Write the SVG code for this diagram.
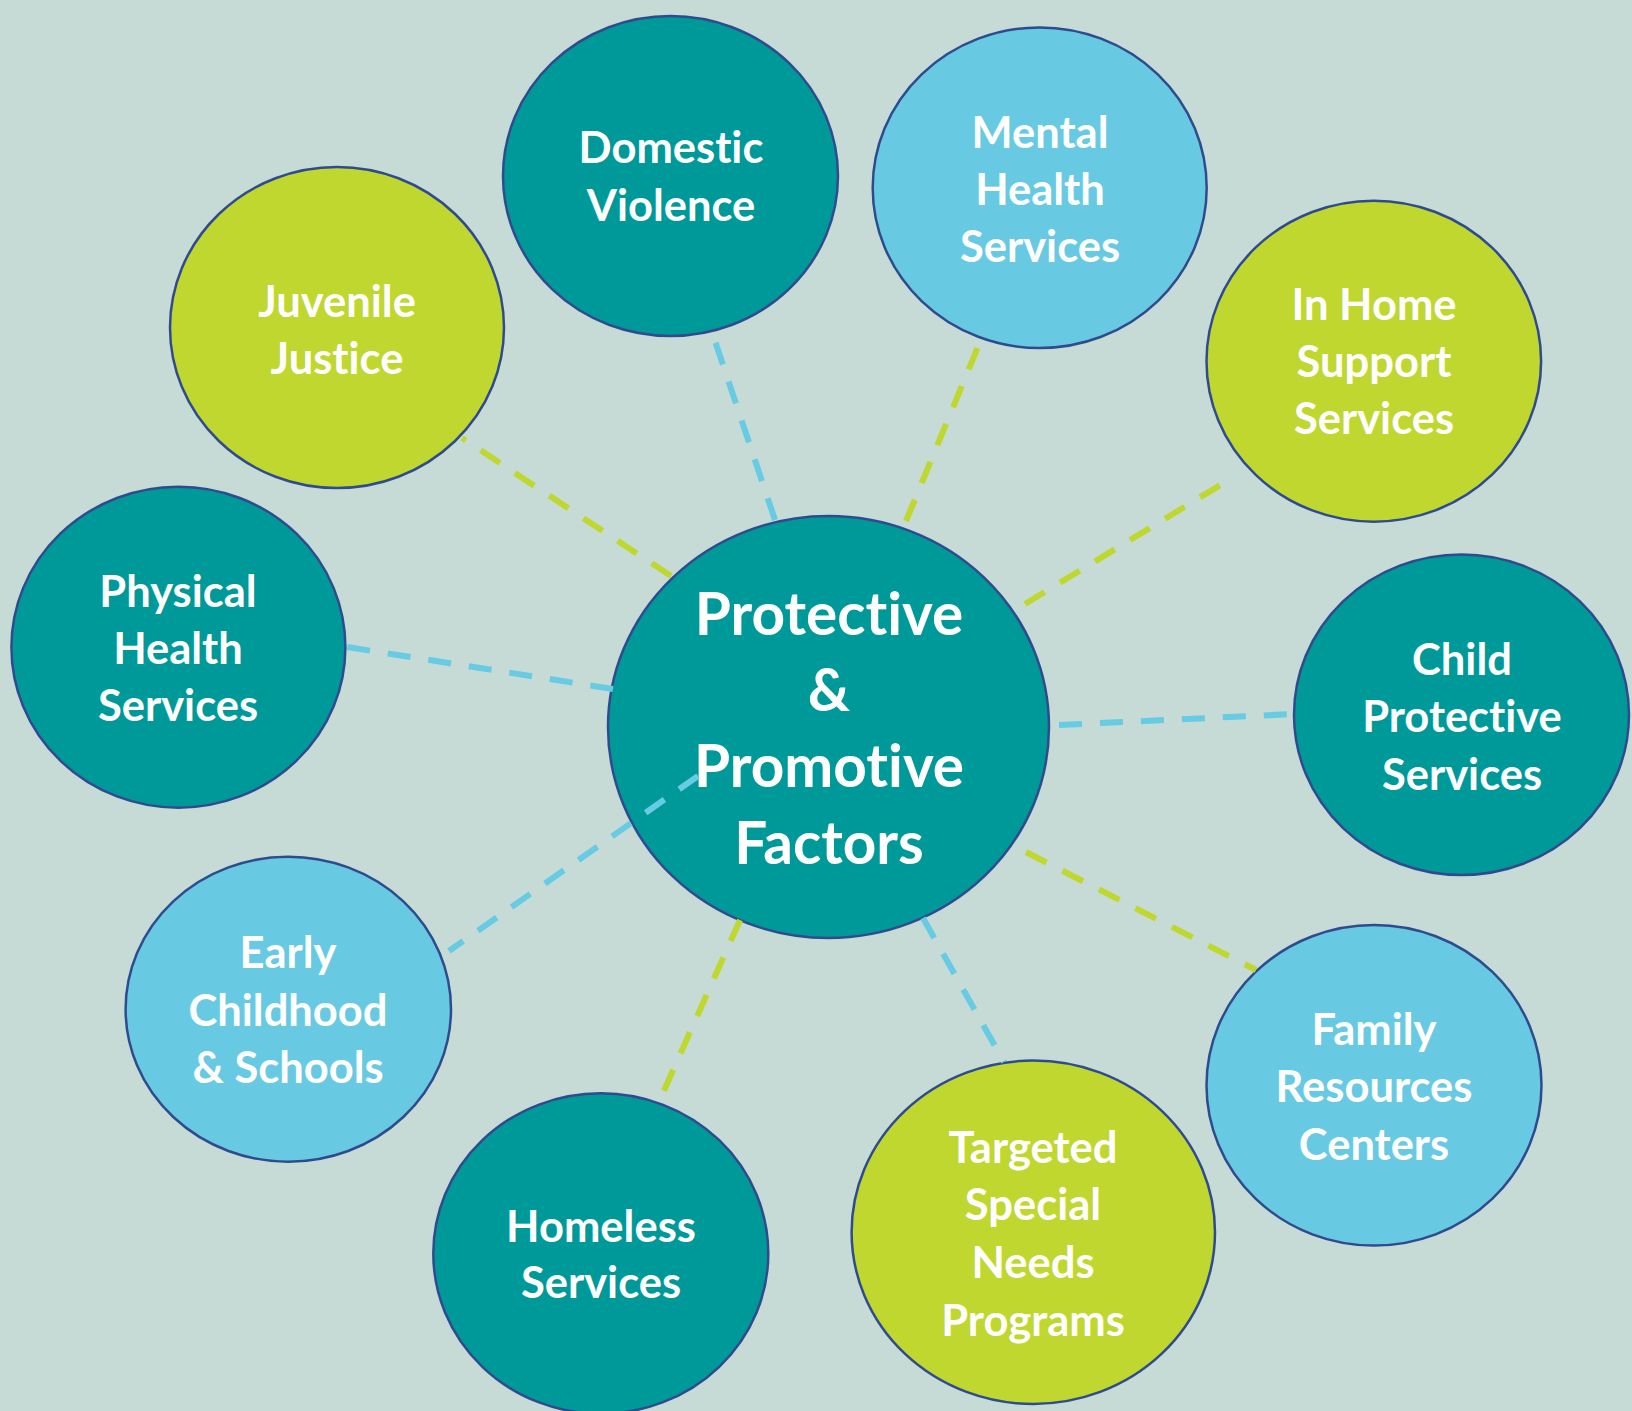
<svg xmlns="http://www.w3.org/2000/svg" width="1632" height="1411" viewBox="0 0 1632 1411">
  <style>
    .node { stroke: #2F4B8E; stroke-width: 2.5; }
    .teal { fill: #009999; }
    .sky { fill: #67CAE2; }
    .lime { fill: #BFD72F; }
    .label { fill: #FFFFFF; font-family: Lato, "Open Sans", "Liberation Sans", sans-serif; font-weight: bold; font-size: 43.5px; text-anchor: middle; font-variant-ligatures: none; font-feature-settings: "liga" 0, "clig" 0; }
    .hub { font-size: 58.5px; }
    .link { fill: none; stroke-width: 6; stroke-dasharray: 23 18; }
    .blue { stroke: #66CBE3; }
    .green { stroke: #BFD72F; }
  </style>

  <rect width="1632" height="1411" fill="#C6DBD6"/>

  <g id="node-center">
    <ellipse class="node teal" cx="828.5" cy="727" rx="220.5" ry="211"/>
    <text class="label hub" x="829" y="635">Protective</text>
    <text class="label hub" x="829" y="711">&amp;</text>
    <text class="label hub" x="829" y="787">Promotive</text>
    <text class="label hub" x="829" y="864">Factors</text>
  </g>

  <g id="node-juvenile-justice">
    <ellipse class="node lime" cx="337" cy="327.5" rx="167" ry="160.5"/>
    <text class="label" x="337" y="317">Juvenile</text>
    <text class="label" x="337" y="374">Justice</text>
  </g>

  <g id="node-domestic-violence">
    <ellipse class="node teal" cx="670.5" cy="176" rx="167.5" ry="160"/>
    <text class="label" x="671" y="163">Domestic</text>
    <text class="label" x="671" y="221">Violence</text>
  </g>

  <g id="node-mental-health">
    <ellipse class="node sky" cx="1039.7" cy="187.7" rx="167" ry="160.3"/>
    <text class="label" x="1040" y="148">Mental</text>
    <text class="label" x="1040" y="205">Health</text>
    <text class="label" x="1040" y="262">Services</text>
  </g>

  <g id="node-in-home-support">
    <ellipse class="node lime" cx="1373.8" cy="361.2" rx="167.3" ry="160.5"/>
    <text class="label" x="1374" y="320">In Home</text>
    <text class="label" x="1374" y="377">Support</text>
    <text class="label" x="1374" y="434">Services</text>
  </g>

  <g id="node-child-protective">
    <ellipse class="node teal" cx="1461.5" cy="714.7" rx="167.5" ry="160.3"/>
    <text class="label" x="1462" y="675">Child</text>
    <text class="label" x="1462" y="732">Protective</text>
    <text class="label" x="1462" y="790">Services</text>
  </g>

  <g id="node-family-resources">
    <ellipse class="node sky" cx="1374" cy="1085.3" rx="167.5" ry="160.3"/>
    <text class="label" x="1374" y="1045">Family</text>
    <text class="label" x="1374" y="1102">Resources</text>
    <text class="label" x="1374" y="1160">Centers</text>
  </g>

  <g id="node-targeted-special-needs">
    <ellipse class="node lime" cx="1033.3" cy="1232.3" rx="181.7" ry="171.7"/>
    <text class="label" x="1033" y="1163">Targeted</text>
    <text class="label" x="1033" y="1220">Special</text>
    <text class="label" x="1033" y="1278">Needs</text>
    <text class="label" x="1033" y="1336">Programs</text>
  </g>

  <g id="node-homeless">
    <ellipse class="node teal" cx="600.8" cy="1253.5" rx="167.5" ry="160.2"/>
    <text class="label" x="601" y="1242">Homeless</text>
    <text class="label" x="601" y="1298">Services</text>
  </g>

  <g id="node-early-childhood">
    <ellipse class="node sky" cx="288.3" cy="1009.2" rx="162.7" ry="152.5"/>
    <text class="label" x="288" y="968">Early</text>
    <text class="label" x="288" y="1026">Childhood</text>
    <text class="label" x="288" y="1083">&amp; Schools</text>
  </g>

  <g id="node-physical-health">
    <ellipse class="node teal" cx="178.4" cy="647.2" rx="167" ry="160.5"/>
    <text class="label" x="178" y="607">Physical</text>
    <text class="label" x="178" y="664">Health</text>
    <text class="label" x="178" y="721">Services</text>
  </g>

  <g id="connectors">
    <line class="link green" x1="671" y1="576" x2="462" y2="438"/>
    <line class="link blue" x1="775" y1="520" x2="712" y2="332"/>
    <line class="link green" x1="906" y1="521" x2="980" y2="342"/>
    <line class="link green" x1="1025" y1="604" x2="1227" y2="481"/>
    <line class="link blue" x1="1059" y1="725" x2="1294" y2="714"/>
    <line class="link green" x1="1026" y1="852" x2="1256" y2="970"/>
    <line class="link blue" x1="923" y1="918" x2="1004" y2="1062"/>
    <line class="link green" x1="740" y1="920" x2="662" y2="1095"/>
    <line class="link blue" x1="698" y1="776" x2="449" y2="951"/>
    <line class="link blue" x1="613" y1="689" x2="347" y2="647"/>
  </g>
</svg>
